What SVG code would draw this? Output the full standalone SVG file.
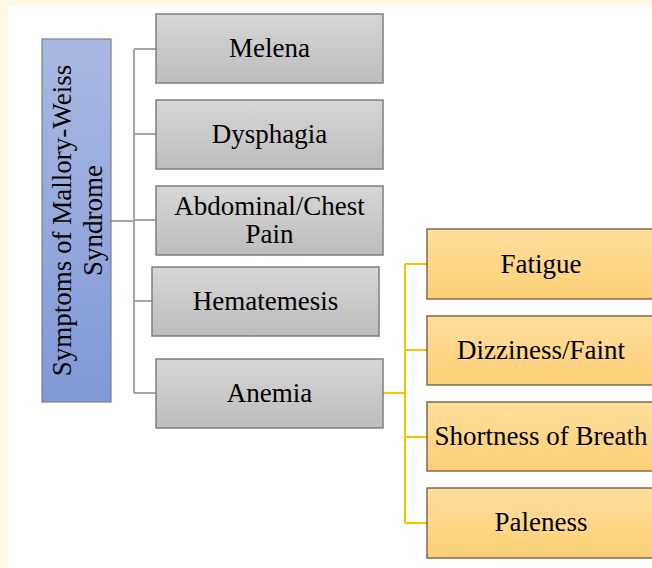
<svg xmlns="http://www.w3.org/2000/svg" width="652" height="568" viewBox="0 0 652 568">
<defs>
<linearGradient id="gGrey" x1="0" y1="0" x2="0" y2="1"><stop offset="0" stop-color="#D6D6D6"/><stop offset="1" stop-color="#BDBDBD"/></linearGradient>
<linearGradient id="gBlue" x1="0" y1="0" x2="0" y2="1"><stop offset="0" stop-color="#AAB9E2"/><stop offset="1" stop-color="#8098D6"/></linearGradient>
<linearGradient id="gOrange" x1="0" y1="0" x2="0" y2="1"><stop offset="0" stop-color="#FFDE9E"/><stop offset="1" stop-color="#FDD075"/></linearGradient>
</defs>
<style>
text{font-family:"Liberation Serif","Times New Roman",serif;font-size:27px;fill:#000;text-anchor:middle}
.grey{fill:url(#gGrey);stroke:#7F7F7F;stroke-width:1.5}
.blue{fill:url(#gBlue);stroke:#7A7F90;stroke-width:1.2}
.orange{fill:url(#gOrange);stroke:#7F6B48;stroke-width:1.5}
.cg{fill:none;stroke:#A6A6A6;stroke-width:2}
.co{fill:none;stroke:#FFC000;stroke-width:2}
</style>
<rect x="0" y="0" width="652" height="568" fill="#FFFFFF"/>
<rect x="0" y="0" width="652" height="5" fill="#FFFAE6"/>
<rect x="0" y="0" width="8" height="568" fill="#FFFAE6"/>
<g id="connectors">
<path class="cg" d="M111 221H134M134 49V393M134 49H156M134 134H156M134 220H156M134 301H152M134 393H156"/>
<path class="co" d="M382 393H405M405 264V523M405 264H427M405 350H427M405 437H427M405 523H427"/>
</g>
<g id="root">
<rect class="blue" x="42" y="39" width="69" height="363"/>
<g transform="translate(76.5,220.5) rotate(-90)">
<text x="0" y="-5.5">Symptoms of Mallory-Weiss</text>
<text x="0" y="25.5">Syndrome</text>
</g>
</g>
<g id="melena"><rect class="grey" x="156" y="14" width="227" height="69"/><text x="269.5" y="57">Melena</text></g>
<g id="dysphagia"><rect class="grey" x="156" y="100" width="227" height="69"/><text x="269.5" y="143">Dysphagia</text></g>
<g id="abdominal"><rect class="grey" x="156" y="186" width="227" height="69"/><text x="269.5" y="215">Abdominal/Chest</text><text x="269.5" y="243">Pain</text></g>
<g id="hematemesis"><rect class="grey" x="152" y="267" width="227" height="69"/><text x="265.5" y="310">Hematemesis</text></g>
<g id="anemia"><rect class="grey" x="156" y="359" width="227" height="69"/><text x="269.5" y="402">Anemia</text></g>
<g id="fatigue"><rect class="orange" x="427" y="229" width="230" height="70"/><text x="541" y="273">Fatigue</text></g>
<g id="dizziness"><rect class="orange" x="427" y="316" width="230" height="69"/><text x="541" y="359">Dizziness/Faint</text></g>
<g id="shortness"><rect class="orange" x="427" y="402" width="230" height="69"/><text x="541" y="445">Shortness of Breath</text></g>
<g id="paleness"><rect class="orange" x="427" y="488" width="230" height="70"/><text x="541" y="531">Paleness</text></g>
</svg>
